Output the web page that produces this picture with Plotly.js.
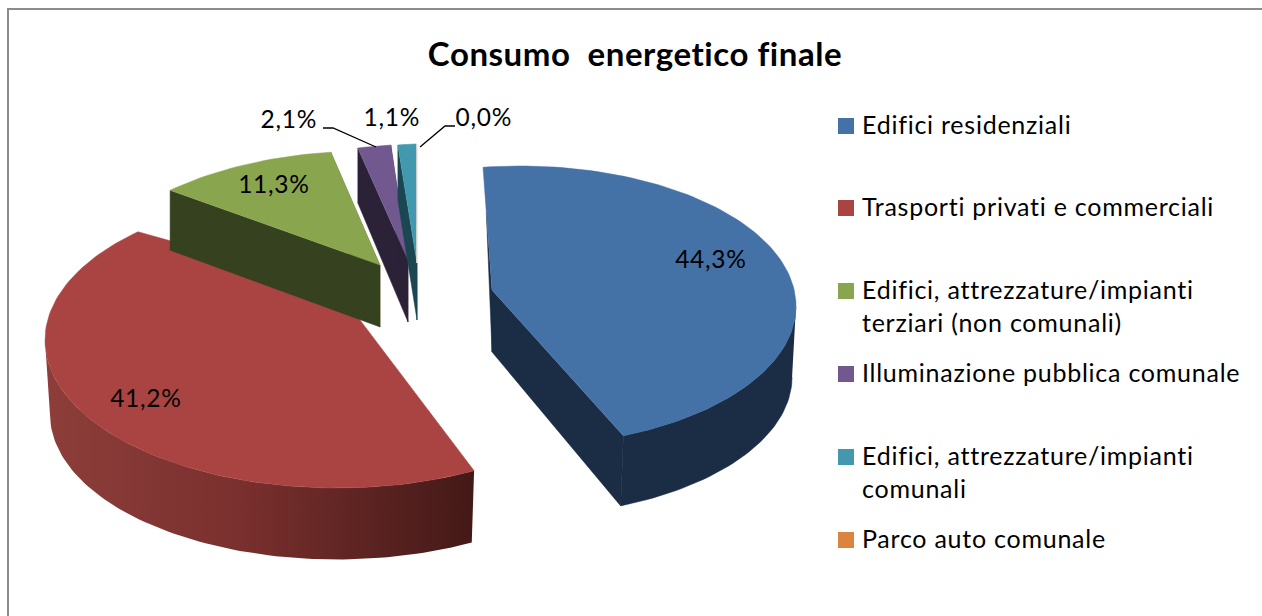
<!DOCTYPE html>
<html>
<head>
<meta charset="utf-8">
<script src="https://cdn.plot.ly/plotly-3.0.1.min.js"></script>
<style>
html,body{margin:0;padding:0;background:#fff;overflow:hidden}
#chart{width:1262px;height:616px}
#chart .annotation-text{letter-spacing:0.75px}
#chart .gtitle{letter-spacing:0.55px}
</style>
</head>
<body>
<div id="chart"></div>
<script>
// ---- data ----
const chartTitle = 'Consumo\u00a0 energetico finale';
const categories = ['Edifici residenziali','Trasporti privati e commerciali','Edifici, attrezzature/impianti terziari (non comunali)','Illuminazione pubblica comunale','Edifici, attrezzature/impianti comunali','Parco auto comunale'];
const legendLines = ['Edifici residenziali','Trasporti privati e commerciali','Edifici, attrezzature/impianti<br>terziari (non comunali)','Illuminazione pubblica comunale','Edifici, attrezzature/impianti<br>comunali','Parco auto comunale'];
const values = [44.3, 41.2, 11.3, 2.1, 1.1, 0.0];

// ---- styles and geometry of the projected 3D pie (pixel space) ----
const topColors  = ['#4471a6','#a94442','#89a54e','#71588f','#4198af','#db843d'];
const sideColors = ['#1a2d45','#7a302e','#36421f','#2c2238','#1a4752','#f3d8c0'];
const FONT = 'Lato, "Open Sans", sans-serif';
// ellipse of each exploded slice, apex position and angle calibration
const geom = [
 {ex:520,ey:306,rx:276,ry:140,ax:492,ay:290,phi0:-7.7, k:1.039,rimD:71,apexD:62,q:0.993,bdx:-2,faceFrom:0.37},
 {ex:337,ey:340,rx:292,ry:148,ax:335,ay:287,phi0:152,  k:1.1126,rimD:74,apexD:70,q:0.983,bdx:0,faceFrom:0},
 {ex:367,ey:301,rx:292,ry:150,ax:380,ay:265,phi0:-42.4,k:0.868,rimD:60,apexD:62,q:1,bdx:0,faceFrom:0},
 {ex:425,ey:294,rx:292,ry:150,ax:408,ay:260,phi0:-13.3,k:0.873,rimD:55,apexD:62,q:1,bdx:0,faceFrom:0},
 {ex:438.5,ey:293.5,rx:292,ry:150,ax:417,ay:263,phi0:-8,k:0.91,rimD:55,apexD:57,q:1,bdx:0,faceFrom:0},
 {ex:438.5,ey:293.5,rx:292,ry:150,ax:417,ay:263,phi0:-4.2,k:0.91,rimD:55,apexD:57,q:1,bdx:0,faceFrom:0}
];
const labelX = [711,146,274,289,392,484];
const labelY = [258,397,183,118,116,116];
const legendY = [126,208,291,374,457,540];

const total = values.reduce((a,b)=>a+b,0);
const rad = d => d*Math.PI/180;
const traces = [];

function poly(xs, ys, color, name, extra){
  traces.push(Object.assign({type:'scatter',mode:'lines',x:xs,y:ys,fill:'toself',fillcolor:color,
    line:{color:color,width:0.5},hoverinfo:'skip',showlegend:false,name:name},extra||{}));
}
const topPt = (g,d)=>[g.ex+g.rx*Math.sin(rad(d)), g.ey-g.ry*Math.cos(rad(d))];
const botPt = (g,d)=>[g.ex+g.bdx+g.rx*g.q*Math.sin(rad(d)), g.ey+g.rimD-g.ry*g.q*Math.cos(rad(d))];

function drawSlice(i){
  const g = geom[i], span = values[i]/total*360*g.k, end = g.phi0+span;
  const n = Math.max(2, Math.ceil(span/1.5));
  const tx=[],ty=[];
  for(let j=0;j<=n;j++){ const t=topPt(g,g.phi0+span*j/n); tx.push(t[0]); ty.push(t[1]); }
  const apexBY = g.ay+g.apexD;
  const s0=topPt(g,g.phi0), b0=botPt(g,g.phi0), s1=topPt(g,end), b1=botPt(g,end);
  if(values[i] > 0){
    // rim band: only the half of the rim that faces the viewer
    const from=Math.max(g.phi0,90), to=Math.min(end,270);
    if(to>from){
      const ax=[],ay=[],cx=[],cy=[], m=Math.ceil((to-from)/1.5);
      for(let j=0;j<=m;j++){ const d=from+(to-from)*j/m, t=topPt(g,d), b=botPt(g,d);
        ax.push(t[0]);ay.push(t[1]);cx.push(b[0]);cy.push(b[1]); }
      const bandX=ax.concat(cx.slice().reverse()), bandY=ay.concat(cy.slice().reverse());
      if(i===1) poly(bandX,bandY,sideColors[i],categories[i],
        {fillgradient:{type:'horizontal',colorscale:[[0,'#8d3e3a'],[0.45,'#7a302e'],[1,'#431917']]},line:{width:0}});
      else poly(bandX,bandY,sideColors[i],categories[i]);
    }
    if(i!==1){
      if(g.faceFrom>0){
        const f=g.faceFrom, px=s0[0]+(g.ax-s0[0])*f, py=s0[1]+(g.ay-s0[1])*f;
        poly([px,g.ax,g.ax],[py,apexBY,g.ay], sideColors[i], categories[i]);
      } else {
        poly([s0[0],b0[0],g.ax,g.ax],[s0[1],b0[1],apexBY,g.ay], sideColors[i], categories[i]);
      }
      poly([s1[0],b1[0],g.ax,g.ax],[s1[1],b1[1],apexBY,g.ay], sideColors[i], categories[i]);
    }
    poly([g.ax].concat(tx,[g.ax]), [g.ay].concat(ty,[g.ay]), topColors[i], categories[i]);
  } else {
    // a share that rounds to zero is seen only as a hairline
    traces.push({type:'scatter',mode:'lines',x:[g.ax,tx[0]],y:[g.ay,ty[0]],
      line:{color:'#fbe6d4',width:1.5},hoverinfo:'skip',showlegend:false,name:categories[i]});
  }
}
[1,2,3,4,5,0].forEach(drawSlice);

// leader lines of the small slices
traces.push({type:'scatter',mode:'lines',x:[323,333,376],y:[128,128,147],line:{color:'#000',width:1.3},hoverinfo:'skip',showlegend:false});
traces.push({type:'scatter',mode:'lines',x:[455,445,420],y:[126,126,147],line:{color:'#000',width:1.3},hoverinfo:'skip',showlegend:false});

// legend swatches
traces.push({type:'scatter',mode:'markers',x:categories.map(()=>846),y:legendY,text:categories,
  marker:{symbol:'square',size:16,color:topColors,line:{width:0}},hoverinfo:'text',showlegend:false});

const annotations = [];
values.forEach((v,i)=>annotations.push({xref:'x',yref:'y',x:labelX[i],y:labelY[i],showarrow:false,
  xanchor:'center',yanchor:'middle',text:v.toFixed(1).replace('.',',')+'%',font:{family:FONT,size:24.5,color:'#000'}}));
legendLines.forEach((t,i)=>annotations.push({xref:'x',yref:'y',x:860,y:legendY[i]-19,showarrow:false,
  xanchor:'left',yanchor:'top',align:'left',text:t,font:{family:FONT,size:25,color:'#000'}}));

const layout = {
  width:1262,height:616,margin:{l:0,r:0,t:0,b:0},autosize:false,
  paper_bgcolor:'#fff',plot_bgcolor:'#fff',showlegend:false,
  title:{text:'<b>'+chartTitle+'</b>',x:635/1262,y:1-54/616,xanchor:'center',yanchor:'middle',
    font:{family:FONT,size:33,color:'#000'}},
  xaxis:{range:[0,1262],visible:false,fixedrange:true},
  yaxis:{range:[616,0],visible:false,fixedrange:true},
  annotations:annotations,
  shapes:[
    {type:'line',xref:'x',yref:'y',x0:7,x1:1262,y0:9,y1:9,line:{color:'#8c8c8c',width:2}},
    {type:'line',xref:'x',yref:'y',x0:8,x1:8,y0:8,y1:616,line:{color:'#8c8c8c',width:2}}
  ]
};
Plotly.newPlot('chart',traces,layout,{displayModeBar:false});
</script>
</body>
</html>
